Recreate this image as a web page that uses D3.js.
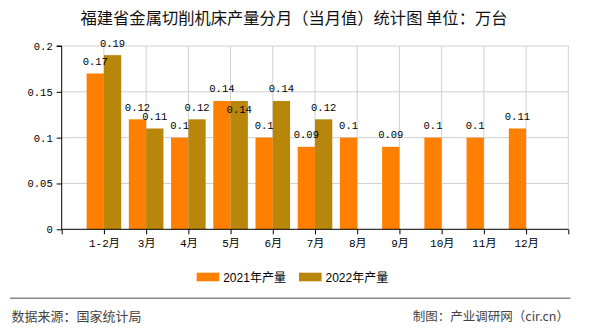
<!DOCTYPE html>
<html>
<head>
<meta charset="utf-8">
<script src="https://cdn.jsdelivr.net/npm/d3@7/dist/d3.min.js"></script>
<style>
html,body{margin:0;padding:0;background:#fff;}
svg{display:block;}
</style>
</head>
<body>
<svg id="chart" width="590" height="330"></svg>
<script>
const categories = ["1-2月","3月","4月","5月","6月","7月","8月","9月","10月","11月","12月"];
const series2021 = [0.17,0.12,0.1,0.14,0.1,0.09,0.1,0.09,0.1,0.1,0.11];
const series2022 = [0.19,0.11,0.12,0.14,0.14,0.12,null,null,null,null,null];
const seriesNames = ["2021年产量","2022年产量"];
const seriesColors = ["#FF8000","#B8860B"];
const yTicks = [0,0.05,0.1,0.15,0.2];
const titleText = "福建省金属切削机床产量分月（当月值）统计图 单位：万台";
const sourceText = "数据来源：国家统计局";
const creditText = "制图：产业调研网（cir.cn）";

const svg = d3.select("#chart");
const pLeft = 61.7, pRight = 568.3, pTop = 46, pBottom = 229.3;
const monoFont = "'Liberation Mono','Noto Sans CJK SC',monospace";
const sansFont = "'Liberation Sans','Noto Sans CJK SC',sans-serif";

const x = d3.scaleLinear().domain([0, categories.length + 1]).range([pLeft, pRight]);
const y = d3.scaleLinear().domain([0, 0.2]).range([pBottom, pTop]);
const barW = 17.3;

// title
svg.append("text").attr("x", 294).attr("y", 24).attr("text-anchor", "middle")
  .attr("font-family", "'Noto Sans CJK SC',sans-serif").attr("font-size", 16.3)
  .attr("fill", "#111").text(titleText);

// grid
const grid = svg.append("g");
grid.selectAll("line.h").data(yTicks.slice(1)).enter().append("line")
  .attr("x1", pLeft).attr("x2", pRight).attr("y1", d => y(d)).attr("y2", d => y(d))
  .attr("stroke", "#d0d0d0").attr("stroke-width", 1);
const xTickVals = d3.range(1, categories.length + 2);
grid.selectAll("line.v").data(xTickVals).enter().append("line")
  .attr("x1", d => x(d)).attr("x2", d => x(d)).attr("y1", pTop).attr("y2", pBottom)
  .attr("stroke", "#d0d0d0").attr("stroke-width", 1);

// bars
const rows = categories.map((c, i) => ({c, i, v: [series2021[i], series2022[i]]}));
const barData = [];
rows.forEach(r => {
  r.v.forEach((v, s) => {
    if (v == null) return;
    barData.push({i: r.i, s, v, x0: x(r.i + 1) + (s === 0 ? -barW : 0)});
  });
});
svg.append("g").selectAll("rect").data(barData).enter().append("rect")
  .attr("x", d => d.x0).attr("width", barW)
  .attr("y", d => y(d.v)).attr("height", d => y(0) - y(d.v))
  .attr("fill", d => seriesColors[d.s]);

// value labels with simple collision avoidance
const labels = svg.append("g").attr("font-family", monoFont).attr("font-size", 10.5).attr("fill", "#000");
barData.forEach(d => {
  let ly = y(d.v) - 8.5;
  if (d.s === 1 && series2021[d.i] === d.v) ly = y(d.v) + 12;
  labels.append("text").attr("x", d.x0 + barW / 2).attr("y", ly)
    .attr("text-anchor", "middle").text(String(d.v));
});

// axes
const yAxis = d3.axisLeft(y).tickValues(yTicks).tickSize(5).tickPadding(4)
  .tickFormat(d => String(+d.toFixed(2)));
const gy = svg.append("g").attr("transform", `translate(${pLeft},0)`).call(yAxis);
gy.select(".domain").attr("stroke", "#000").attr("d", `M-5,${pTop}H0V${pBottom}`);
gy.selectAll(".tick line").attr("stroke", "#000");
gy.selectAll("text").attr("font-family", monoFont).attr("font-size", 10.5).attr("fill", "#000");

const xAxis = d3.axisBottom(x).tickValues(d3.range(0, categories.length + 2)).tickSize(5).tickPadding(5)
  .tickFormat(d => (d >= 1 && d <= categories.length) ? categories[d - 1] : "");
const gx = svg.append("g").attr("transform", `translate(0,${pBottom})`).call(xAxis);
gx.select(".domain").attr("stroke", "#000").attr("d", `M${pLeft},0H${pRight}`);
gx.selectAll(".tick line").attr("stroke", "#000");
gx.selectAll("text").attr("font-family", monoFont).attr("font-size", 11).attr("fill", "#000");

// legend
const lg = svg.append("g");
const legendX = [196.7, 299];
seriesNames.forEach((n, s) => {
  lg.append("rect").attr("x", legendX[s]).attr("y", 272.7).attr("width", 22.6).attr("height", 8.6)
    .attr("fill", seriesColors[s]);
  lg.append("text").attr("x", legendX[s] + 26.5).attr("y", 282).attr("font-family", sansFont)
    .attr("font-size", 12).attr("fill", "#000").text(n);
});

// footer
svg.append("line").attr("x1", 10).attr("x2", 570.5).attr("y1", 298.3).attr("y2", 298.3)
  .attr("stroke", "#888").attr("stroke-width", 1.5);
svg.append("text").attr("x", 11.5).attr("y", 320.5).attr("font-family", "'Noto Sans CJK SC',sans-serif")
  .attr("font-size", 13).attr("fill", "#444").text(sourceText);
svg.append("text").attr("x", 569).attr("y", 320.5).attr("text-anchor", "end")
  .attr("font-family", "'Noto Sans CJK SC',sans-serif")
  .attr("font-size", 12.5).attr("fill", "#444").text(creditText);
</script>
</body>
</html>
